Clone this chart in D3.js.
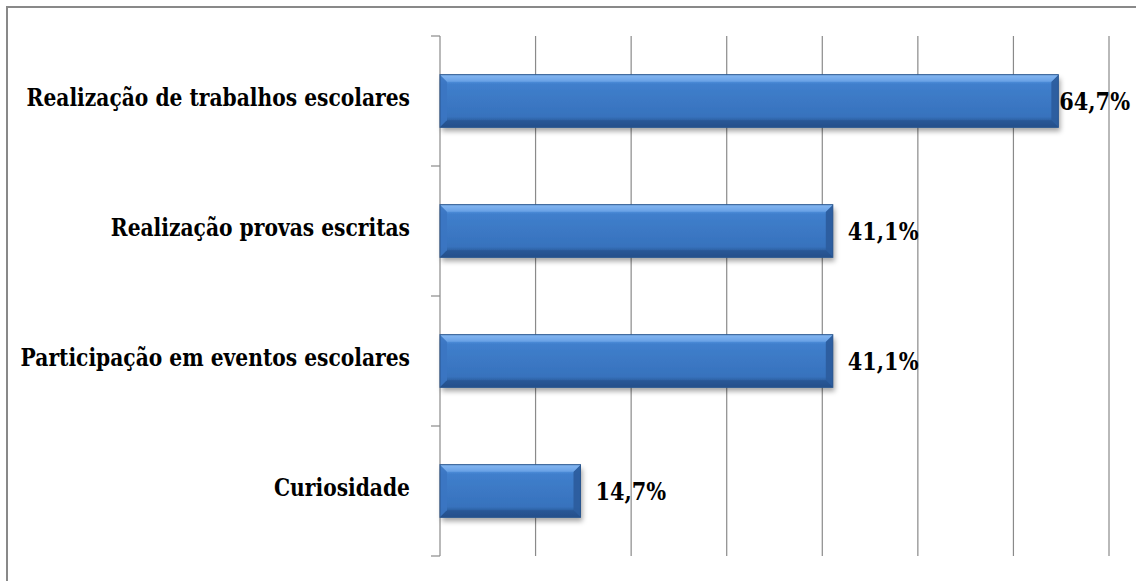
<!DOCTYPE html>
<html>
<head>
<meta charset="utf-8">
<script src="https://cdn.jsdelivr.net/npm/d3@7"></script>
<style>
  html, body { margin: 0; padding: 0; background: #fff; }
  svg { display: block; }
  .serif { font-family: "DejaVu Serif", serif; font-weight: bold; }
</style>
</head>
<body>
<svg id="chart" width="1136" height="581"></svg>
<script>
const categories = [
  "Realização de trabalhos escolares",
  "Realização provas escritas",
  "Participação em eventos escolares",
  "Curiosidade"
];
const values = [64.7, 41.1, 41.1, 14.7];
const valueLabels = ["64,7%", "41,1%", "41,1%", "14,7%"];
const xTicks = [0, 10, 20, 30, 40, 50, 60, 70];

const W = 1136, H = 581;
const plot = { left: 440, right: 1109, top: 36, bottom: 556 };
const catScaleX = 0.81, valScaleX = 0.87;
const svg = d3.select("#chart");

svg.append("path")
  .attr("d", `M7,${H} L7,7 L${W},7`)
  .attr("fill", "none").attr("stroke", "#898989").attr("stroke-width", 2);

const x = d3.scaleLinear().domain([0, 70]).range([plot.left, plot.right]);
const y = d3.scaleBand().domain(categories).range([plot.top, plot.bottom]).padding(0);

const defs = svg.append("defs");
const grad = defs.append("linearGradient").attr("id", "barGrad")
  .attr("x1", 0).attr("y1", 0).attr("x2", 0).attr("y2", 1);
[[0, "#8dbef4"], [0.06, "#72aaeb"], [0.14, "#4c8bd7"], [0.18, "#407fcc"],
 [0.8, "#3772bd"], [0.86, "#2e63a6"], [1, "#25518b"]]
  .forEach(([o, c]) => grad.append("stop").attr("offset", o).attr("stop-color", c));

const shadow = defs.append("filter").attr("id", "shadow")
  .attr("x", "-5%").attr("y", "-20%").attr("width", "110%").attr("height", "160%");
shadow.append("feDropShadow").attr("dx", 2).attr("dy", 4).attr("stdDeviation", 2.5)
  .attr("flood-color", "#000").attr("flood-opacity", 0.35);

svg.append("g").selectAll("line")
  .data(xTicks.filter(t => t > 0))
  .join("line")
  .attr("x1", d => x(d)).attr("x2", d => x(d))
  .attr("y1", plot.top).attr("y2", plot.bottom)
  .attr("stroke", "#8a8a8a").attr("stroke-width", 1.2);

const axisG = svg.append("g");
axisG.append("line")
  .attr("x1", plot.left).attr("x2", plot.left)
  .attr("y1", plot.top).attr("y2", plot.bottom)
  .attr("stroke", "#8a8a8a").attr("stroke-width", 1.2);
const bounds = categories.map(c => y(c)).concat([y(categories[categories.length - 1]) + y.bandwidth()]);
axisG.selectAll("line.tick").data(bounds).join("line").attr("class", "tick")
  .attr("x1", plot.left - 9).attr("x2", plot.left)
  .attr("y1", d => d).attr("y2", d => d)
  .attr("stroke", "#8a8a8a").attr("stroke-width", 1.2);

axisG.selectAll("text.cat").data(categories).join("text").attr("class", "cat serif")
  .attr("transform", d => `translate(${plot.left - 30},${y(d) + y.bandwidth() / 2 - 4}) scale(${catScaleX},1)`)
  .attr("dy", "0.36em")
  .attr("text-anchor", "end")
  .attr("font-size", 25)
  .attr("fill", "#000")
  .text(d => d);

const barH = y.bandwidth() * 0.405;
const barOff = (y.bandwidth() - barH) / 2;
const bev = 7;
const bars = svg.append("g").selectAll("g.bar")
  .data(categories.map((c, i) => ({ c, v: values[i], lab: valueLabels[i] })))
  .join("g").attr("class", "bar");

bars.each(function (d) {
  const g = d3.select(this);
  const x0 = x(0), x1 = x(d.v), y0 = y(d.c) + barOff, y1 = y0 + barH;
  g.append("rect")
    .attr("x", x0).attr("y", y0).attr("width", x1 - x0).attr("height", barH)
    .attr("fill", "url(#barGrad)").attr("filter", "url(#shadow)");
  g.append("path")
    .attr("d", `M${x0},${y0} L${x0 + bev},${y0 + bev} L${x0 + bev},${y1 - bev} L${x0},${y1} Z`)
    .attr("fill", "#3b76c2").attr("opacity", 0.9);
  g.append("path")
    .attr("d", `M${x1},${y0} L${x1 - bev},${y0 + bev} L${x1 - bev},${y1 - bev} L${x1},${y1} Z`)
    .attr("fill", "#2c5d9e").attr("opacity", 0.95);
  g.append("path")
    .attr("d", `M${x0},${y0} L${x1},${y0} L${x1 - bev},${y0 + bev} L${x0 + bev},${y0 + bev} Z`)
    .attr("fill", "#7db1ee").attr("opacity", 0.55);
  g.append("path")
    .attr("d", `M${x0},${y1} L${x1},${y1} L${x1 - bev},${y1 - bev} L${x0 + bev},${y1 - bev} Z`)
    .attr("fill", "#244f8a").attr("opacity", 0.55);
  g.append("rect")
    .attr("x", x0).attr("y", y0).attr("width", x1 - x0).attr("height", barH)
    .attr("fill", "none").attr("stroke", "#2a568f").attr("stroke-width", 1);

  const t = g.append("text")
    .attr("class", "serif")
    .attr("dy", "0.36em")
    .attr("font-size", 24)
    .attr("fill", "#000")
    .text(d.lab);
  const tw = t.node().getComputedTextLength() * valScaleX;
  const lx = Math.max(Math.min(x1 + 15, W - 6 - tw), x1);
  t.attr("transform", `translate(${lx},${y0 + barH / 2}) scale(${valScaleX},1)`);
});
</script>
</body>
</html>
